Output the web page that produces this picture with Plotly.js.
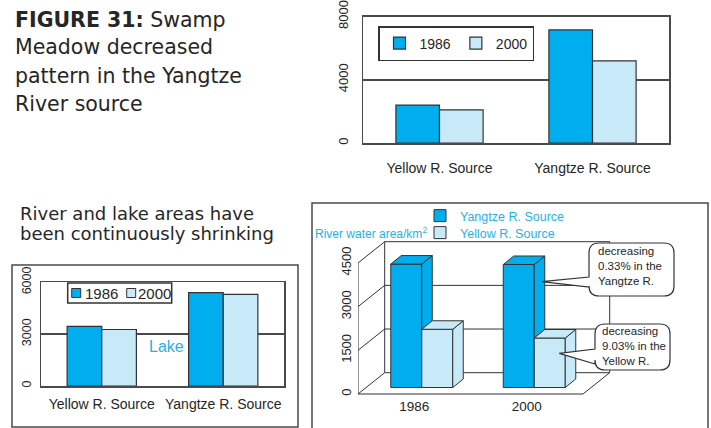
<!DOCTYPE html>
<html>
<head>
<meta charset="utf-8">
<script src="https://cdn.plot.ly/plotly-3.0.1.min.js"></script>
<style>
html, body { margin: 0; padding: 0; background: #ffffff; }
#chart { width: 711px; height: 428px; }
</style>
</head>
<body>
<div id="chart"></div>
<script>
// ---------------- DATA ----------------
const swampCats = ['Yellow R. Source', 'Yangtze R. Source'];
const swamp1986 = [2400, 7150];
const swamp2000 = [2100, 5200];
const swampTicks = [0, 4000, 8000];

const lakeCats = ['Yellow R. Source', 'Yangtze R. Source'];
const lake1986 = [3450, 5400];
const lake2000 = [3270, 5300];
const lakeTicks = [0, 3000, 6000];

const riverYears = ['1986', '2000'];
const riverYangtze = [4240, 4225];
const riverYellow = [2000, 1700];
const riverTicks = [0, 1500, 3000, 4500];

const yearNames = ['1986', '2000'];
const riverNames = ['Yangtze R. Source', 'Yellow R. Source'];

// ---------------- STYLE ----------------
const W = 711, H = 428;
const px = x => x / W;
const py = y => 1 - y / H;
const C_DARK = '#00AEEF';
const C_LIGHT = '#C8E9F8';
const EDGE = '#333333';
const FRAME = '#4a4a4a';
const CYAN = '#1FB2EA';
const TXT = '#262626';
const CF = '"Liberation Sans", Arial, Helvetica, sans-serif';
const TF = '"DejaVu Sans", sans-serif';

// oblique projection geometry for the 3D panel (pixel based)
const K = 131 / 4500;   // px per value unit on front plane
const UX = 112.5;       // px per category unit
const vx = p => p / UX, vy = p => p / K;
const BAR_W = vx(31), SHX = vx(7.5), SHY = vy(6.5);
const BDX = vx(10.5), BDY = vy(8.5);
const FDX = vx(26.7), FDY = vy(21.3);
const x3range = [-0.5, -0.5 + (700 - 358) / UX];
const y3range = [-(396 - 394) / K, (394 - 236) / K];

const traces = [];

// ---- top chart: swamp meadow ----
traces.push({type: 'bar', x: swampCats, y: swamp1986, name: yearNames[0], xaxis: 'x', yaxis: 'y', legend: 'legend',
  marker: {color: C_DARK, line: {color: EDGE, width: 1.2}}, hoverinfo: 'skip'});
traces.push({type: 'bar', x: swampCats, y: swamp2000, name: yearNames[1], xaxis: 'x', yaxis: 'y', legend: 'legend',
  marker: {color: C_LIGHT, line: {color: EDGE, width: 1.2}}, hoverinfo: 'skip'});

// ---- lower-left chart: lake ----
traces.push({type: 'bar', x: lakeCats, y: lake1986, name: yearNames[0], xaxis: 'x2', yaxis: 'y2', showlegend: false,
  marker: {color: C_DARK, line: {color: EDGE, width: 1.2}}, hoverinfo: 'skip'});
traces.push({type: 'bar', x: lakeCats, y: lake2000, name: yearNames[1], xaxis: 'x2', yaxis: 'y2', showlegend: false,
  marker: {color: C_LIGHT, line: {color: EDGE, width: 1.2}}, hoverinfo: 'skip'});

// ---- lower-right 3D-like chart: river water area ----
const xi = riverYears.map((_, i) => i);
function addRiver(values, name, color, xa, ya, offset, legendId) {
  traces.push({type: 'bar', x: xi, y: values, base: SHY, width: BAR_W, offset: offset, name: name,
    xaxis: xa, yaxis: ya, legend: legendId, marker: {color: color, line: {color: EDGE, width: 1}}, hoverinfo: 'skip'});
  values.forEach((v, i) => {
    const L = i + offset, R = L + BAR_W, B = SHY, T = SHY + v;
    traces.push({type: 'scatter', mode: 'lines', x: [R, R, R + BDX, R + BDX, R], y: [B, T, T + BDY, B + BDY, B],
      fill: 'toself', fillcolor: color, line: {color: EDGE, width: 1}, xaxis: xa, yaxis: ya,
      showlegend: false, hoverinfo: 'skip'});
    traces.push({type: 'scatter', mode: 'lines', x: [L, R, R + BDX, L + BDX, L], y: [T, T, T + BDY, T + BDY, T],
      fill: 'toself', fillcolor: color, line: {color: EDGE, width: 1}, xaxis: xa, yaxis: ya,
      showlegend: false, hoverinfo: 'skip'});
  });
}
addRiver(riverYangtze, riverNames[0], C_DARK, 'x3', 'y3', -BAR_W + SHX, 'legend2');
addRiver(riverYellow, riverNames[1], C_LIGHT, 'x4', 'y4', SHX, 'legend3');

// ---------------- SHAPES ----------------
const shapes = [];
const prect = (x0, y0, x1, y1, extra) => Object.assign({type: 'rect', xref: 'paper', yref: 'paper',
  x0: px(x0), y0: py(y0), x1: px(x1), y1: py(y1), line: {color: FRAME, width: 1.5}}, extra || {});

// panel boxes
shapes.push(prect(12, 265, 298, 427));
shapes.push(prect(312, 203, 708, 440));

// lower-left legend (box + swatches)
shapes.push(prect(67.7, 283, 171.7, 303, {fillcolor: '#ffffff', line: {color: EDGE, width: 1.5}}));
shapes.push(prect(71.7, 288.5, 80.7, 297.5, {fillcolor: C_DARK, line: {color: EDGE, width: 1}}));
shapes.push(prect(126.7, 288.5, 135.7, 297.5, {fillcolor: C_LIGHT, line: {color: EDGE, width: 1}}));

// 3D walls / floor
const wl = (x0, y0, x1, y1) => ({type: 'line', xref: 'x3', yref: 'y3', x0: x0, y0: y0, x1: x1, y1: y1,
  layer: 'below', line: {color: EDGE, width: 1}});
const xL = -0.5, xR = riverYears.length - 0.5, vTop = riverTicks[riverTicks.length - 1];
shapes.push(wl(xL, 0, xL, vTop));
shapes.push(wl(xL, 0, xR, 0));
shapes.push(wl(xR, 0, xR + FDX, FDY));
shapes.push(wl(xL + FDX, FDY, xL + FDX, vTop + FDY));
shapes.push(wl(xR + FDX, FDY, xR + FDX, vTop + FDY));
riverTicks.forEach(v => {
  shapes.push(wl(xL, v, xL + FDX, v + FDY));
  shapes.push(wl(xL + FDX, v + FDY, xR + FDX, v + FDY));
});

// callout bubbles
function bubble(x0, y0, x1, y1, r, ya, yb, tx, ty) {
  const P = (x, y) => px(x).toFixed(5) + ',' + py(y).toFixed(5);
  return 'M' + P(x0 + r, y0) + ' L' + P(x1 - r, y0) + ' Q' + P(x1, y0) + ' ' + P(x1, y0 + r) +
    ' L' + P(x1, y1 - r) + ' Q' + P(x1, y1) + ' ' + P(x1 - r, y1) +
    ' L' + P(x0 + r, y1) + ' Q' + P(x0, y1) + ' ' + P(x0, y1 - r) +
    ' L' + P(x0, yb) + ' L' + P(tx, ty) + ' L' + P(x0, ya) +
    ' L' + P(x0, y0 + r) + ' Q' + P(x0, y0) + ' ' + P(x0 + r, y0) + ' Z';
}
shapes.push({type: 'path', xref: 'paper', yref: 'paper', layer: 'above', fillcolor: '#ffffff',
  line: {color: EDGE, width: 1.2}, path: bubble(589, 243, 674, 296, 10, 277, 287, 541.7, 281.7)});
shapes.push({type: 'path', xref: 'paper', yref: 'paper', layer: 'above', fillcolor: '#ffffff',
  line: {color: EDGE, width: 1.2}, path: bubble(595, 324, 670, 370, 10, 349, 364, 559.3, 353.3)});

// ---------------- ANNOTATIONS ----------------
const ann = [];
const txt = (text, x, y, size, color, family, xanchor) => ({text: text, x: px(x), y: py(y), xref: 'paper', yref: 'paper',
  xanchor: xanchor || 'left', yanchor: 'middle', showarrow: false, align: 'left',
  font: {size: size, color: color, family: family}});

ann.push(txt('<b>FIGURE 31:</b> Swamp', 13, 19.7, 20.5, TXT, TF));
ann.push(txt('Meadow decreased', 13, 47.2, 20.5, TXT, TF));
ann.push(txt('pattern in the Yangtze', 13, 75.8, 20.5, TXT, TF));
ann.push(txt('River source', 13, 104.2, 20.5, TXT, TF));

ann.push(txt('River and lake areas have', 18, 213, 18, TXT, TF));
ann.push(txt('been continuously shrinking', 18, 233, 18, TXT, TF));

ann.push(txt('Lake', 166, 346, 16, CYAN, CF, 'center'));
ann.push(txt(yearNames[0], 83, 293, 15, TXT, CF));
ann.push(txt(yearNames[1], 136, 293, 15, TXT, CF));

ann.push(txt('River water area/km<sup>2</sup>', 313, 233, 12, CYAN, CF));

ann.push(txt('decreasing<br>0.33% in the<br>Yangtze R.', 596, 266, 11.5, TXT, CF));
ann.push(txt('decreasing<br>9.03% in the<br>Yellow R.', 600, 346, 11.5, TXT, CF));

// ---------------- LAYOUT ----------------
const catAxis = (domain, anchor, standoff) => ({domain: domain, anchor: anchor, type: 'category',
  showline: true, mirror: true, linecolor: FRAME, linewidth: 1.5, ticks: '', showgrid: false, zeroline: false,
  ticklabelstandoff: standoff, tickfont: {size: 14, color: TXT, family: CF}, fixedrange: true});
const valAxis = (domain, anchor, range, tickvals, standoff, size) => ({domain: domain, anchor: anchor, range: range,
  tickvals: tickvals, tickangle: -90, showgrid: true, gridcolor: FRAME, gridwidth: 1.5,
  showline: true, mirror: true, linecolor: FRAME, linewidth: 1.5, zeroline: false, ticks: '',
  ticklabelstandoff: standoff, tickfont: {size: size, color: TXT, family: CF}, fixedrange: true});

const smallLegend = (x, y) => ({orientation: 'v', x: px(x), y: py(y), xanchor: 'left', yanchor: 'top',
  bgcolor: 'rgba(0,0,0,0)', borderwidth: 0, font: {size: 12.5, color: CYAN, family: CF},
  itemwidth: 30, traceorder: 'normal'});

const layout = {
  width: W, height: H,
  margin: {l: 0, r: 0, t: 0, b: 0, pad: 0},
  paper_bgcolor: '#ffffff', plot_bgcolor: 'rgba(0,0,0,0)',
  font: {family: CF, size: 14, color: TXT},
  barmode: 'group', bargap: 0.43, bargroupgap: 0,
  hovermode: false,
  xaxis: catAxis([px(363), px(669)], 'y', 12),
  yaxis: valAxis([py(143), py(16.5)], 'x', [0, 8000], swampTicks, 8, 13),
  xaxis2: catAxis([px(41), px(284)], 'y2', 5),
  yaxis2: valAxis([py(386), py(282.3)], 'x2', [0, 6000], lakeTicks, 4, 12.5),
  xaxis3: {domain: [px(358), px(700)], anchor: 'y3', range: x3range, tickvals: xi, ticktext: riverYears,
    showline: false, showgrid: false, zeroline: false, ticks: '', ticklabelstandoff: 0,
    tickfont: {size: 13.5, color: TXT, family: CF}, fixedrange: true},
  yaxis3: {domain: [py(396), py(236)], anchor: 'x3', range: y3range, tickvals: riverTicks, tickangle: -90,
    showline: false, showgrid: false, zeroline: false, ticks: '', ticklabelstandoff: 3,
    tickfont: {size: 13, color: TXT, family: CF}, fixedrange: true},
  xaxis4: {overlaying: 'x3', anchor: 'y4', range: x3range, visible: false, fixedrange: true},
  yaxis4: {overlaying: 'y3', anchor: 'x4', range: y3range, visible: false, fixedrange: true},
  legend: {orientation: 'h', x: px(378), y: py(26), xanchor: 'left', yanchor: 'top',
    bgcolor: '#ffffff', bordercolor: EDGE, borderwidth: 1.5, font: {size: 14, color: TXT, family: CF},
    itemwidth: 30, traceorder: 'normal'},
  legend2: smallLegend(420, 201),
  legend3: smallLegend(420, 218),
  shapes: shapes,
  annotations: ann
};

Plotly.newPlot('chart', traces, layout, {staticPlot: true, displayModeBar: false});
</script>
</body>
</html>
